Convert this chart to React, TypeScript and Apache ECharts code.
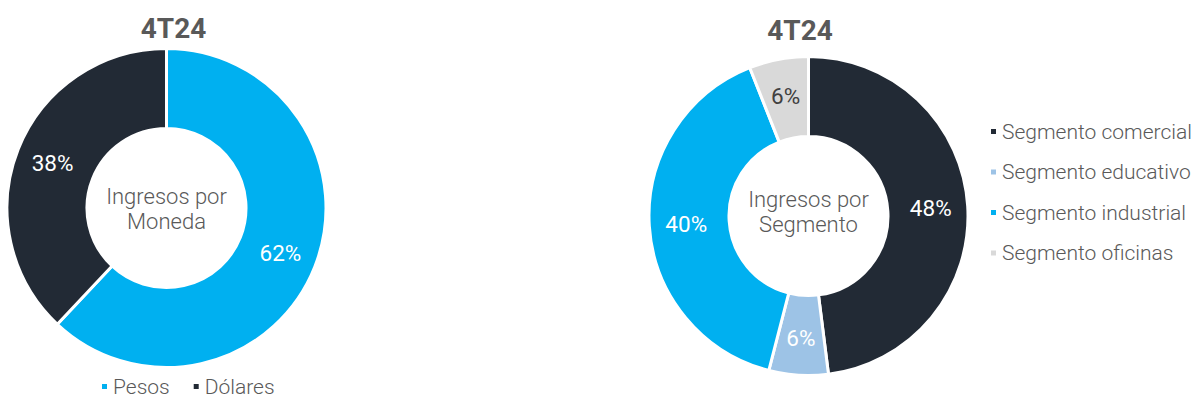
import React, { useEffect, useRef } from "react";
import * as echarts from "echarts";

const currencyNames = ["Pesos", "Dólares"];
const currencyValues = [62, 38];
const currencyColors = ["#00B0F0", "#222A35"];

const segmentNames = ["Segmento comercial", "Segmento educativo", "Segmento industrial", "Segmento oficinas"];
const segmentValues = [48, 6, 40, 6];
const segmentColors = ["#222A35", "#9DC3E6", "#00B0F0", "#D9D9D9"];
const segmentLabelColors = ["#FFFFFF", "#FFFFFF", "#FFFFFF", "#404040"];

const periodTitle = "4T24";
const leftCenterText = "Ingresos por\nMoneda";
const rightCenterText = "Ingresos por\nSegmento";

const FONT = "Roboto, 'Noto Sans', sans-serif";
const GRAY = "#595959";

export default function App() {
  const ref = useRef<HTMLDivElement>(null);
  useEffect(() => {
    if (!ref.current) return;
    const chart = echarts.init(ref.current, null, { renderer: "svg" });
    const labelStyle = {
      show: true,
      position: "inside",
      fontFamily: FONT,
      fontSize: 22.5,
      fontWeight: 400,
      formatter: (p: any) => p.value + "%",
    };
    const legendText = { color: GRAY, fontSize: 21, fontWeight: 300, fontFamily: FONT };
    chart.setOption({
      animation: false,
      backgroundColor: "#FFFFFF",
      textStyle: { fontFamily: FONT },
      legend: [
        {
          data: currencyNames,
          orient: "horizontal",
          left: 95,
          top: 371,
          icon: "rect",
          itemWidth: 7,
          itemHeight: 7,
          itemGap: 22,
          selectedMode: false,
          textStyle: legendText,
        },
        {
          data: segmentNames,
          orient: "vertical",
          left: 984,
          top: 116,
          icon: "rect",
          itemWidth: 7,
          itemHeight: 7,
          itemGap: 19.5,
          selectedMode: false,
          textStyle: legendText,
        },
      ],
      graphic: [
        {
          type: "text",
          x: 173.5,
          y: 28,
          style: { text: periodTitle, fill: GRAY, font: `bold 28px ${FONT}`, textAlign: "center", textVerticalAlign: "middle" },
        },
        {
          type: "text",
          x: 800,
          y: 30,
          style: { text: periodTitle, fill: GRAY, font: `bold 28px ${FONT}`, textAlign: "center", textVerticalAlign: "middle" },
        },
        {
          type: "text",
          x: 166.5,
          y: 209,
          style: { text: leftCenterText, fill: GRAY, font: `300 22px ${FONT}`, lineHeight: 25, textAlign: "center", textVerticalAlign: "middle" },
        },
        {
          type: "text",
          x: 808.5,
          y: 212,
          style: { text: rightCenterText, fill: GRAY, font: `300 22px ${FONT}`, lineHeight: 25, textAlign: "center", textVerticalAlign: "middle" },
        },
      ],
      series: [
        {
          type: "pie",
          center: [166.5, 208],
          radius: [79.5, 159.5],
          startAngle: 90,
          clockwise: true,
          avoidLabelOverlap: false,
          itemStyle: { borderColor: "#FFFFFF", borderWidth: 3 },
          label: { ...labelStyle, color: "#FFFFFF" },
          labelLine: { show: false },
          emphasis: { disabled: true },
          data: currencyNames.map((n, i) => ({
            name: n,
            value: currencyValues[i],
            itemStyle: { color: currencyColors[i] },
          })),
        },
        {
          type: "pie",
          center: [808.5, 216],
          radius: [79.5, 159.5],
          startAngle: 90,
          clockwise: true,
          avoidLabelOverlap: false,
          itemStyle: { borderColor: "#FFFFFF", borderWidth: 3 },
          label: labelStyle,
          labelLine: { show: false },
          emphasis: { disabled: true },
          data: segmentNames.map((n, i) => ({
            name: n,
            value: segmentValues[i],
            itemStyle: { color: segmentColors[i] },
            label: { color: segmentLabelColors[i] },
          })),
        },
      ],
    });
    return () => chart.dispose();
  }, []);
  return (
    <div
      ref={ref}
      style={{ position: "absolute", left: 0, top: 0, width: 1194, height: 398 }}
    />
  );
}
